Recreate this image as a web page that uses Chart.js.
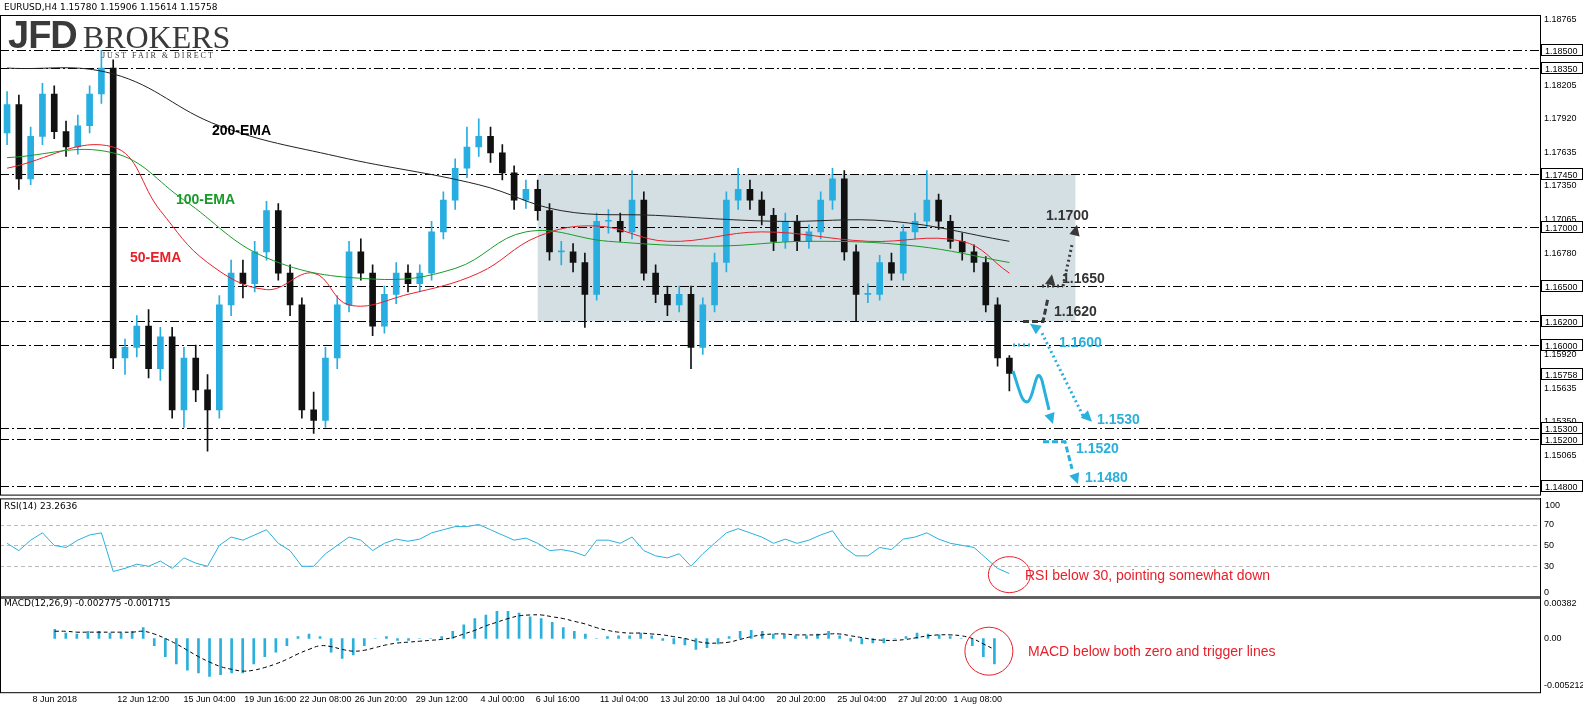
<!DOCTYPE html>
<html><head><meta charset="utf-8">
<script src="https://cdn.jsdelivr.net/npm/chart.js@4.4.1/dist/chart.umd.min.js"></script>
<style>
body{margin:0;background:#fff;width:1583px;height:705px;overflow:hidden;position:relative;font-family:"DejaVu Sans",sans-serif}
canvas{position:absolute;left:0}
#title{position:absolute;left:4px;top:2px;font-size:9px;color:#000}
#logo{position:absolute;left:8px;top:14px;color:#3a3a3a}
</style></head><body>
<canvas id="main" style="top:0"></canvas>
<canvas id="rsi" style="top:491px"></canvas>
<canvas id="macd" style="top:589px"></canvas>
<div id="title">EURUSD,H4 1.15780 1.15906 1.15614 1.15758</div>
<div id="logo"><span style="font:bold 38px 'Liberation Sans';letter-spacing:-1px">JFD</span><span style="font:32px 'Liberation Serif';margin-left:6px">BROKERS</span>
<div style="font:8px 'Liberation Serif';letter-spacing:2px;margin:-6px 0 0 94px">JUST FAIR &amp; DIRECT</div></div>
<script>
// candles (H4, resampled)
const closes = [1.1804,1.1741,1.1777,1.1813,1.1781,1.1768,1.1786,1.1813,1.1835,1.1589,
1.1598,1.1616,1.1580,1.1607,1.1545,1.1589,1.1562,1.1545,1.1634,1.1661,
1.1652,1.1679,1.1714,1.1661,1.1634,1.1545,1.1536,1.1589,1.1634,1.1679,
1.1661,1.1616,1.1643,1.1661,1.1652,1.1661,1.1696,1.1723,1.1750,1.1768,
1.1777,1.1763,1.1746,1.1723,1.1732,1.1714,1.1679,1.1679,1.1670,1.1643,
1.1705,1.1705,1.1696,1.1723,1.1661,1.1643,1.1634,1.1643,1.1598,1.1634,
1.1670,1.1723,1.1732,1.1723,1.1710,1.1688,1.1705,1.1688,1.1696,1.1723,
1.1741,1.1679,1.1643,1.1643,1.1670,1.1661,1.1696,1.1705,1.1723,1.1705,
1.1688,1.1679,1.1670,1.1634,1.1589,1.1576];
const highs = [1.1815,1.1812,1.1785,1.1822,1.1820,1.1790,1.1795,1.1820,1.1850,1.1842,
1.1605,1.1625,1.1630,1.1615,1.1615,1.1598,1.1600,1.1575,1.1642,1.1672,
1.1672,1.1688,1.1722,1.1720,1.1668,1.1640,1.1560,1.1598,1.1642,1.1688,
1.1690,1.1668,1.1650,1.1670,1.1668,1.1668,1.1705,1.1730,1.1758,1.1785,
1.1792,1.1785,1.1770,1.1752,1.1740,1.1740,1.1720,1.1688,1.1686,1.1678,
1.1712,1.1715,1.1712,1.1748,1.1730,1.1668,1.1650,1.1650,1.1650,1.1640,
1.1678,1.1730,1.1750,1.1740,1.1730,1.1716,1.1712,1.1710,1.1702,1.1730,
1.1750,1.1748,1.1685,1.1652,1.1676,1.1678,1.1702,1.1712,1.1748,1.1728,
1.1710,1.1695,1.1685,1.1675,1.1640,1.1591];
const lows = [1.1770,1.1732,1.1736,1.1770,1.1775,1.1760,1.1762,1.1780,1.1805,1.1580,
1.1575,1.1590,1.1572,1.1570,1.1538,1.1530,1.1552,1.1510,1.1538,1.1625,
1.1640,1.1645,1.1672,1.1655,1.1625,1.1538,1.1525,1.1530,1.1580,1.1628,
1.1655,1.1608,1.1610,1.1635,1.1645,1.1645,1.1655,1.1690,1.1715,1.1742,
1.1760,1.1755,1.1740,1.1715,1.1716,1.1706,1.1672,1.1668,1.1662,1.1615,
1.1638,1.1695,1.1688,1.1690,1.1655,1.1636,1.1625,1.1628,1.1580,1.1592,
1.1628,1.1662,1.1715,1.1715,1.1702,1.1680,1.1682,1.1680,1.1682,1.1690,
1.1715,1.1672,1.1620,1.1636,1.1638,1.1655,1.1655,1.1690,1.1700,1.1698,
1.1682,1.1672,1.1662,1.1628,1.1582,1.1561];
const firstOpen = 1.1780;

// moving averages [bar index, price]
const ema200 = [[0,1.1835],[9,1.1830],[18,1.1786],[28,1.1760],[40,1.1736],[47,1.1714],[55,1.1710],[65,1.1705],[75,1.1705],[85,1.1688]];
const ema100 = [[0,1.1759],[9,1.1763],[15,1.1723],[22,1.1674],[31,1.1656],[38,1.1665],[44,1.1696],[51,1.1688],[60,1.1684],[68,1.1688],[77,1.1684],[85,1.1670]];
const ema50 = [[0,1.1750],[9,1.1768],[13,1.1714],[17,1.1670],[22,1.1647],[26,1.1661],[29,1.1634],[34,1.1643],[40,1.1661],[45,1.1692],[50,1.1701],[56,1.1688],[64,1.1696],[73,1.1688],[81,1.1688],[85,1.1661]];

const levels = [1.1850,1.1835,1.1745,1.1700,1.1650,1.1620,1.1600,1.1530,1.1520,1.1480];
const priceTicks = [1.18765,1.18205,1.17920,1.17635,1.17350,1.17065,1.16780,1.16495,1.16210,1.15920,1.15635,1.15350,1.15065];
const lastPrice = 1.15758;

const rsi = [52,45,55,62,50,48,55,60,62,25,28,32,30,35,28,38,33,30,50,58,
55,60,65,52,45,30,30,42,50,58,55,45,52,56,54,56,62,65,68,68,
70,65,60,55,57,52,45,46,44,40,55,55,52,58,45,40,38,42,30,42,
52,62,66,62,58,52,56,52,55,60,64,48,40,40,48,46,56,58,62,56,
52,50,48,38,28,23];
const macdHist = [1.0,0.6,0.5,0.8,0.8,0.6,0.6,0.8,1.2,-0.8,-2.0,-2.8,-3.5,-3.8,-4.2,-4.0,-3.8,-3.8,-2.8,-2.0,
-1.5,-0.8,0.2,0.5,0.2,-1.5,-2.2,-1.8,-0.8,0.0,0.2,-0.2,-0.2,0.0,0.0,0.2,0.8,1.5,2.2,2.6,
3.0,3.0,2.8,2.4,2.2,1.8,1.2,0.8,0.5,0.0,0.2,0.3,0.3,0.6,0.3,-0.2,-0.6,-0.7,-1.2,-1.0,
-0.6,0.2,0.8,0.9,0.8,0.5,0.4,0.3,0.3,0.5,0.8,0.3,-0.3,-0.6,-0.5,-0.5,0.0,0.2,0.6,0.5,
0.4,0.2,0.0,-0.8,-2.0,-2.8];
const macdSignal = [0.8,0.8,0.7,0.7,0.7,0.7,0.7,0.7,0.8,0.5,0.0,-0.6,-1.3,-2.0,-2.6,-3.1,-3.4,-3.6,-3.5,-3.2,
-2.8,-2.3,-1.7,-1.2,-0.8,-0.9,-1.2,-1.4,-1.3,-1.0,-0.7,-0.5,-0.4,-0.3,-0.2,-0.1,0.1,0.5,0.9,1.4,
1.8,2.2,2.5,2.6,2.6,2.4,2.2,1.9,1.6,1.2,0.9,0.7,0.6,0.6,0.5,0.4,0.2,0.0,-0.3,-0.5,
-0.5,-0.4,-0.1,0.2,0.4,0.5,0.5,0.4,0.4,0.4,0.5,0.5,0.3,0.1,-0.1,-0.2,-0.2,-0.1,0.1,0.3,
0.4,0.4,0.3,0.0,-0.6,-1.2];
const timeLabels = [[0,'8 Jun 2018'],[8,'12 Jun 12:00'],[14,'15 Jun 04:00'],[19.5,'19 Jun 16:00'],[24.5,'22 Jun 08:00'],[29.5,'26 Jun 20:00'],[35,'29 Jun 12:00'],[40.5,'4 Jul 00:00'],[45.5,'6 Jul 16:00'],[51.5,'11 Jul 04:00'],[57,'13 Jul 20:00'],[62,'18 Jul 04:00'],[67.5,'20 Jul 20:00'],[73,'25 Jul 04:00'],[78.5,'27 Jul 20:00'],[83.5,'1 Aug 08:00']];

const UP = '#28aee0', DOWN = '#111';
const XMIN = -0.6, XMAX = 130;
const FONT = {family:'Liberation Sans', size:9};
const opens = closes.map((c, i) => i === 0 ? firstOpen : closes[i - 1]);
const isUp = closes.map((c, i) => c >= opens[i]);

function setup(id, h, top, bottom) {
  const cv = document.getElementById(id);
  cv.width = 1583; cv.height = h;
  cv.style.width = '1583px'; cv.style.height = h + 'px';
  return {ctx: cv.getContext('2d'), layout: {padding: {top: top, bottom: bottom, left: 0, right: 0}}};
}
const xAxis = (show) => ({type:'linear', min:XMIN, max:XMAX, display:show, grid:{display:false, tickLength:2}, border:{display:false},
  afterBuildTicks: a => { a.ticks = show ? timeLabels.map(t => ({value:t[0]})) : []; },
  ticks:{font:FONT, color:'#000', maxRotation:0, autoSkip:false, padding:0,
    callback: v => { const t = timeLabels.find(t => t[0] === v); return t ? t[1] : ''; }}});
const yRight = (extra) => Object.assign({position:'right', grid:{display:false, tickLength:2}, border:{color:'#000'},
  afterFit: a => { a.width = 43; }}, extra);
const yTicks = (cb) => ({font:FONT, color:'#000', padding:2, callback:cb});

function dashdot(ctx, y, x1, x2) {
  ctx.save(); ctx.strokeStyle = '#000'; ctx.lineWidth = 1; ctx.setLineDash([9,3,2,3]);
  ctx.beginPath(); ctx.moveTo(x1, y); ctx.lineTo(x2, y); ctx.stroke(); ctx.restore();
}
function frame(ch) {
  const a = ch.chartArea, ctx = ch.ctx;
  ctx.save(); ctx.strokeStyle = '#000'; ctx.lineWidth = 1;
  ctx.strokeRect(a.left + 0.5, a.top + 0.5, a.right - a.left, a.bottom - a.top); ctx.restore();
}
function arrowHead(ctx, x1, y1, x2, y2, col) {
  const ang = Math.atan2(y2 - y1, x2 - x1), s = 12;
  ctx.save(); ctx.fillStyle = col; ctx.beginPath(); ctx.moveTo(x2, y2);
  ctx.lineTo(x2 - s * Math.cos(ang - 0.45), y2 - s * Math.sin(ang - 0.45));
  ctx.lineTo(x2 - s * Math.cos(ang + 0.45), y2 - s * Math.sin(ang + 0.45));
  ctx.closePath(); ctx.fill(); ctx.restore();
}
function seg(ctx, pts, dash) {
  ctx.setLineDash(dash); ctx.beginPath(); ctx.moveTo(pts[0], pts[1]);
  for (let i = 2; i < pts.length; i += 2) ctx.lineTo(pts[i], pts[i + 1]);
  ctx.stroke();
}

// ---------- main price panel ----------
const m = setup('main', 502, 15, 2);
const mainDecor = {
  id:'mainDecor',
  beforeDatasetsDraw(ch) {
    const {ctx, chartArea:a, scales:{x, y}} = ch;
    ctx.save(); ctx.fillStyle = 'rgba(170,192,200,0.5)';
    const x0 = x.getPixelForValue(45), x1 = x.getPixelForValue(90.6);
    ctx.fillRect(x0, y.getPixelForValue(1.1745), x1 - x0, y.getPixelForValue(1.1620) - y.getPixelForValue(1.1745));
    ctx.restore();
    levels.forEach(l => dashdot(ctx, Math.round(y.getPixelForValue(l)) + 0.5, a.left, a.right));
  },
  afterDraw(ch) {
    const {ctx, chartArea:a, scales:{y}} = ch;
    frame(ch);
    const Y = v => y.getPixelForValue(v);
    ctx.save();
    ctx.font = 'bold 14px "Liberation Sans"';
    ctx.fillStyle = '#000'; ctx.fillText('200-EMA', 212, 135);
    ctx.fillStyle = '#1a9a2a'; ctx.fillText('100-EMA', 176, 204);
    ctx.fillStyle = '#e8202a'; ctx.fillText('50-EMA', 130, 262);
    ctx.fillStyle = '#333';
    ctx.fillText('1.1700', 1046, Y(1.1700) - 7);
    ctx.fillText('1.1650', 1062, Y(1.1650) - 3);
    ctx.fillText('1.1620', 1054, Y(1.1620) - 5);
    ctx.fillStyle = '#29b0dc';
    ctx.fillText('1.1600', 1059, Y(1.1600) + 2);
    ctx.fillText('1.1530', 1097, Y(1.1530) - 4);
    ctx.fillText('1.1520', 1076, Y(1.1520) + 14);
    ctx.fillText('1.1480', 1085, Y(1.1480) - 4);
    const g = '#3a3a3a', c = '#29b0dc';
    ctx.lineWidth = 3; ctx.strokeStyle = g;
    seg(ctx, [1023, Y(1.1620), 1043, Y(1.1620), 1048, Y(1.1640)], [6,3]);
    arrowHead(ctx, 1046, Y(1.1630), 1052, Y(1.1660), g);
    seg(ctx, [1042, Y(1.1650), 1063, Y(1.1650)], [2,3]);
    seg(ctx, [1063, Y(1.1650), 1072, Y(1.1685)], [2,3]);
    arrowHead(ctx, 1068, Y(1.1670), 1077, Y(1.1702), g);
    ctx.strokeStyle = c;
    seg(ctx, [1013, Y(1.1600), 1033, Y(1.1600)], [2,3]);
    seg(ctx, [1042, Y(1.1610), 1083, Y(1.1540)], [2,3]);
    arrowHead(ctx, 1040, Y(1.1612), 1030, Y(1.1618), c);
    arrowHead(ctx, 1080, Y(1.1545), 1092, Y(1.1535), c);
    seg(ctx, [1043, Y(1.1518), 1065, Y(1.1518), 1072, Y(1.1495)], [6,3]);
    arrowHead(ctx, 1070, Y(1.1500), 1078, Y(1.1482), c);
    ctx.setLineDash([]);
    ctx.beginPath(); ctx.moveTo(1013, Y(1.1578));
    ctx.bezierCurveTo(1020, Y(1.1560), 1022, Y(1.1550), 1028, Y(1.1552));
    ctx.bezierCurveTo(1034, Y(1.1555), 1036, Y(1.1585), 1042, Y(1.1570));
    ctx.lineTo(1049, Y(1.1545));
    ctx.stroke();
    arrowHead(ctx, 1047, Y(1.1548), 1053, Y(1.1533), c);
    ctx.font = '9px "Liberation Sans"';
    levels.concat([lastPrice]).forEach(l => {
      const yy = Math.round(Y(l));
      ctx.fillStyle = '#fff'; ctx.fillRect(a.right + 1, yy - 6, 42, 12);
      ctx.strokeStyle = '#000'; ctx.lineWidth = 1; ctx.strokeRect(a.right + 1.5, yy - 5.5, 41, 11);
      ctx.fillStyle = '#000'; ctx.fillText(l.toFixed(5), a.right + 5, yy + 3.5);
    });
    ctx.restore();
  }
};
new Chart(m.ctx, {
  type:'bar',
  data:{datasets:[
    {type:'line', data:ema200.map(p => ({x:p[0], y:p[1]})), borderColor:'#222', borderWidth:1, pointRadius:0, tension:0.4},
    {type:'line', data:ema100.map(p => ({x:p[0], y:p[1]})), borderColor:'#1a9a2a', borderWidth:1, pointRadius:0, tension:0.4},
    {type:'line', data:ema50.map(p => ({x:p[0], y:p[1]})), borderColor:'#e8202a', borderWidth:1, pointRadius:0, tension:0.4},
    {data:closes.map((c, i) => ({x:i, y:[lows[i], highs[i]]})), backgroundColor:isUp.map(u => u ? UP : DOWN), barThickness:1, grouped:false},
    {data:closes.map((c, i) => ({x:i, y:[opens[i], c]})), backgroundColor:isUp.map(u => u ? UP : DOWN), barThickness:6, minBarLength:1, grouped:false}
  ]},
  options:{animation:false, responsive:false, layout:m.layout,
    plugins:{legend:{display:false}, tooltip:{enabled:false}},
    scales:{x:xAxis(false), y:yRight({min:1.14731, max:1.1880,
      afterBuildTicks: a => { a.ticks = priceTicks.map(v => ({value:v})); },
      ticks:yTicks(v => v.toFixed(5))})}},
  plugins:[mainDecor]
});

// ---------- RSI ----------
const r = setup('rsi', 114, 4, 2);
new Chart(r.ctx, {
  type:'line',
  data:{datasets:[{data:rsi.map((v, i) => ({x:i, y:v})), borderColor:'#29b0dc', borderWidth:1, pointRadius:0}]},
  options:{animation:false, responsive:false, layout:r.layout,
    plugins:{legend:{display:false}, tooltip:{enabled:false}},
    scales:{x:xAxis(false), y:yRight({min:0, max:95,
      afterBuildTicks: a => { a.ticks = [70,50,30,5].map(v => ({value:v})); },
      ticks:yTicks(v => v === 5 ? '0' : String(v))})}},
  plugins:[{id:'rsiDecor',
    beforeDatasetsDraw(ch) {
      const {ctx, chartArea:a, scales:{y}} = ch;
      ctx.save(); ctx.strokeStyle = '#bbb'; ctx.setLineDash([4,3]);
      [70,50,30].forEach(v => { const yy = Math.round(y.getPixelForValue(v)) + 0.5; ctx.beginPath(); ctx.moveTo(a.left, yy); ctx.lineTo(a.right, yy); ctx.stroke(); });
      ctx.restore();
    },
    afterDraw(ch) {
      const {ctx, chartArea:a, scales:{x, y}} = ch;
      frame(ch);
      ctx.save(); ctx.font = '9px "DejaVu Sans"'; ctx.fillStyle = '#000';
      ctx.fillText('RSI(14) 23.2636', 4, a.top + 11);
      ctx.font = '9px "Liberation Sans"';
      ctx.fillText('100', a.right + 5, a.top + 10);
      ctx.strokeStyle = '#e8202a'; ctx.lineWidth = 1;
      ctx.beginPath(); ctx.ellipse(x.getPixelForValue(85), y.getPixelForValue(22), 21, 18, 0, 0, Math.PI * 2); ctx.stroke();
      ctx.font = '14px "Liberation Sans"'; ctx.fillStyle = '#e8202a';
      ctx.fillText('RSI below 30, pointing somewhat down', 1025, y.getPixelForValue(22) + 5);
      ctx.restore();
    }}]
});

// ---------- MACD ----------
const d = setup('macd', 116, 4, 0);
new Chart(d.ctx, {
  type:'bar',
  data:{datasets:[
    {type:'line', data:macdSignal.map((v, i) => ({x:i, y:v / 1000})), borderColor:'#000', borderWidth:1, borderDash:[4,3], pointRadius:0, tension:0.4},
    {data:macdHist.map((v, i) => ({x:i, y:v / 1000})), backgroundColor:'#29b0dc', barThickness:2}
  ]},
  options:{animation:false, responsive:false, layout:d.layout,
    plugins:{legend:{display:false}, tooltip:{enabled:false}},
    scales:{x:xAxis(true), y:yRight({min:-0.00593, max:0.00465,
      afterBuildTicks: a => { a.ticks = [0.00382, 0, -0.005212].map(v => ({value:v})); },
      ticks:yTicks(v => v === 0 ? '0.00' : String(v))})}},
  plugins:[{id:'macdDecor',
    afterDraw(ch) {
      const {ctx, chartArea:a, scales:{x, y}} = ch;
      frame(ch);
      ctx.save(); ctx.font = '9px "DejaVu Sans"'; ctx.fillStyle = '#000';
      ctx.fillText('MACD(12,26,9) -0.002775 -0.001715', 4, a.top + 10);
      ctx.strokeStyle = '#e8202a'; ctx.lineWidth = 1;
      ctx.beginPath(); ctx.ellipse(x.getPixelForValue(84.5), y.getPixelForValue(-0.0014), 24, 24, 0, 0, Math.PI * 2); ctx.stroke();
      ctx.font = '14px "Liberation Sans"'; ctx.fillStyle = '#e8202a';
      ctx.fillText('MACD below both zero and trigger lines', 1028, y.getPixelForValue(-0.0014) + 5);
      ctx.restore();
    }}]
});
</script>
</body></html>
